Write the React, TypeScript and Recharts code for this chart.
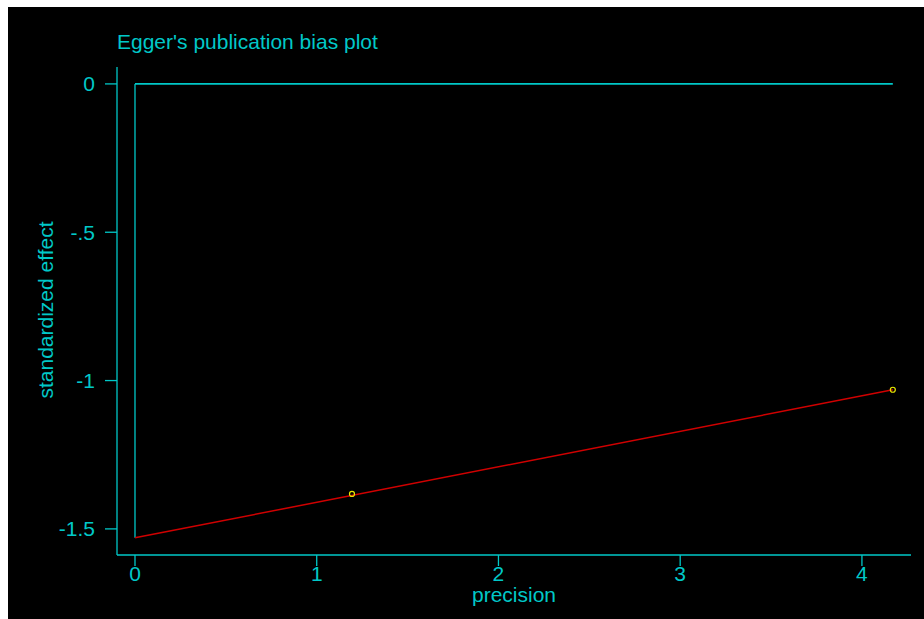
import {
  ComposedChart,
  Line,
  Scatter,
  XAxis,
  YAxis,
} from "recharts";

// studies: precision (1/se) and standardized effect (effect/se)
const precision = [1.194, 4.17];
const stdEffect = [-1.382, -1.031];

// Egger regression line, drawn from x = 0 to the largest precision
const fitX = [0, 4.17];
const fitY = [-1.53, -1.031];

const xTicks = [0, 1, 2, 3, 4];
const yTicks = [0, -0.5, -1, -1.5];
const yTickLabels = ["0", "-.5", "-1", "-1.5"];

const CYAN = "#00c8c8";
const RED = "#d00000";
const YELLOW = "#e8e800";
const FONT = '"Liberation Sans", Arial, sans-serif';

const points = precision.map((x, i) => ({ x, y: stdEffect[i] }));
const fit = fitX.map((x, i) => ({ x, y: fitY[i] }));
const zeroLine = [
  { x: fitX[0], y: 0 },
  { x: fitX[fitX.length - 1], y: 0 },
];
const interceptLine = [
  { x: fitX[0], y: 0 },
  { x: fitX[0], y: fitY[0] },
];

function yLabel(v: number) {
  const i = yTicks.indexOf(v);
  return i >= 0 ? yTickLabels[i] : String(v);
}

export default function App() {
  return (
    <div
      style={{
        position: "absolute",
        left: 0,
        top: 0,
        width: 924,
        height: 619,
        background: "#fff",
      }}
    >
      <div style={{ position: "absolute", left: 8, top: 7, background: "#000" }}>
        <ComposedChart
          width={916}
          height={612}
          margin={{ top: 60, right: 13, left: 29, bottom: 0 }}
          style={{ fontFamily: FONT }}
        >
          <text x={109} y={42} fill={CYAN} fontSize={21} fontFamily={FONT}>
            Egger's publication bias plot
          </text>
          <XAxis
            dataKey="x"
            type="number"
            domain={[-0.099, 4.27]}
            allowDataOverflow
            ticks={xTicks}
            height={64}
            tickSize={11}
            tickMargin={0}
            axisLine={{ stroke: CYAN, strokeWidth: 1.3 }}
            tickLine={{ stroke: CYAN, strokeWidth: 1.3 }}
            tick={{ fill: CYAN, fontSize: 21, fontFamily: FONT }}
            label={{
              value: "precision",
              position: "insideBottom",
              offset: 17,
              fill: CYAN,
              fontSize: 21,
              fontFamily: FONT,
            }}
          />
          <YAxis
            type="number"
            domain={[-1.588, 0.057]}
            allowDataOverflow
            ticks={yTicks}
            tickFormatter={yLabel}
            width={80}
            tickSize={12}
            tickMargin={10}
            axisLine={{ stroke: CYAN, strokeWidth: 1.3 }}
            tickLine={{ stroke: CYAN, strokeWidth: 1.3 }}
            tick={{ fill: CYAN, fontSize: 21, fontFamily: FONT }}
            label={{
              content: () => (
                <text
                  x={37}
                  y={303}
                  transform="rotate(-90 37 303)"
                  textAnchor="middle"
                  dominantBaseline="central"
                  fill={CYAN}
                  fontSize={21}
                  fontFamily={FONT}
                >
                  standardized effect
                </text>
              ),
            }}
          />
          <Line
            data={zeroLine}
            dataKey="y"
            type="linear"
            stroke={CYAN}
            strokeWidth={1.6}
            dot={false}
            isAnimationActive={false}
          />
          <Line
            data={interceptLine}
            dataKey="y"
            type="linear"
            stroke={CYAN}
            strokeWidth={1.3}
            dot={false}
            isAnimationActive={false}
          />
          <Line
            data={fit}
            dataKey="y"
            type="linear"
            stroke={RED}
            strokeWidth={1.5}
            dot={false}
            isAnimationActive={false}
          />
          <Scatter
            data={points}
            dataKey="y"
            isAnimationActive={false}
            shape={(p: any) => (
              <circle cx={p.cx} cy={p.cy} r={2.5} fill="none" stroke={YELLOW} strokeWidth={1.2} />
            )}
          />
        </ComposedChart>
      </div>
    </div>
  );
}
